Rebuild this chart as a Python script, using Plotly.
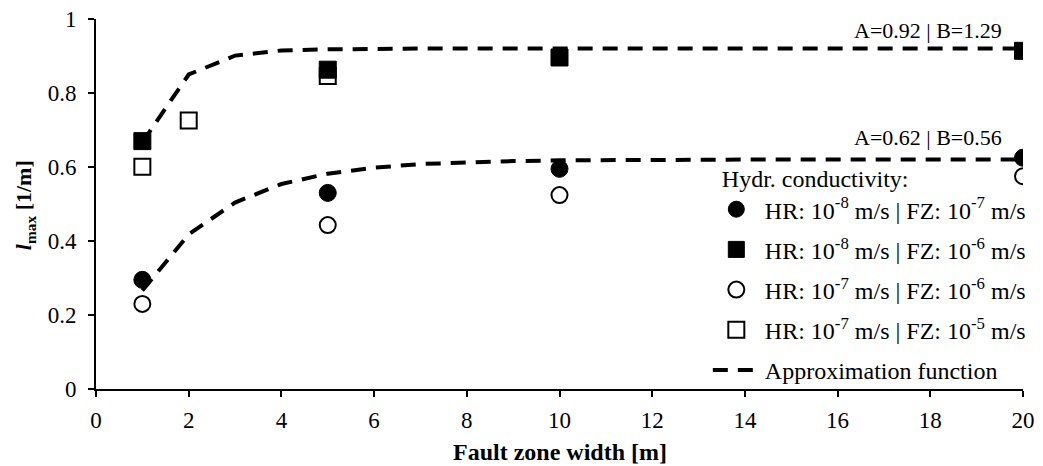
import plotly.graph_objects as go

# Data
fz_width_1 = [1, 5, 10, 20]
hr8_fz7 = [0.295, 0.530, 0.595, 0.625]          # filled circles
hr8_fz6 = [0.670, 0.863, 0.896, 0.914]          # filled squares
hr7_fz6 = [0.230, 0.443, 0.524, 0.575]          # open circles
fz_width_2 = [1, 2, 5]
hr7_fz5 = [0.601, 0.726, 0.846]                 # open squares

approx_x = list(range(1, 21))
approx_upper = [0.667, 0.850, 0.901, 0.915, 0.918, 0.920, 0.920, 0.920, 0.920, 0.920,
                0.920, 0.920, 0.920, 0.920, 0.920, 0.920, 0.920, 0.920, 0.920, 0.920]
approx_lower = [0.266, 0.418, 0.504, 0.554, 0.582, 0.598, 0.608, 0.613, 0.616, 0.618,
                0.619, 0.619, 0.620, 0.620, 0.620, 0.620, 0.620, 0.620, 0.620, 0.620]

label_upper = "A=0.92 | B=1.29"
label_lower = "A=0.62 | B=0.56"

x_ticks = list(range(0, 21, 2))
y_ticks = [0, 0.2, 0.4, 0.6, 0.8, 1]

x_title = "<b>Fault zone width [m]</b>"
y_title = "<b><i>l</i><sub>max</sub> [1/m]</b>"

FONT = "Liberation Serif, Times New Roman, serif"

fig = go.Figure()

# open squares drawn first (they sit under the filled squares)
fig.add_trace(go.Scatter(
    x=fz_width_2, y=hr7_fz5, mode="markers",
    name="HR: 10<sup>-7</sup> m/s | FZ: 10<sup>-5</sup> m/s",
    marker=dict(symbol="square", size=16, color="white", line=dict(color="black", width=2)),
    legendgroup="g4", legendrank=4))
fig.add_trace(go.Scatter(
    x=fz_width_1, y=hr7_fz6, mode="markers",
    name="HR: 10<sup>-7</sup> m/s | FZ: 10<sup>-6</sup> m/s",
    marker=dict(symbol="circle", size=16, color="white", line=dict(color="black", width=2)),
    legendgroup="g3", legendrank=3))
fig.add_trace(go.Scatter(
    x=fz_width_1, y=hr8_fz7, mode="markers",
    name="HR: 10<sup>-8</sup> m/s | FZ: 10<sup>-7</sup> m/s",
    marker=dict(symbol="circle", size=17, color="black", line=dict(color="black", width=1)),
    legendgroup="g1", legendrank=1))
fig.add_trace(go.Scatter(
    x=fz_width_1, y=hr8_fz6, mode="markers",
    name="HR: 10<sup>-8</sup> m/s | FZ: 10<sup>-6</sup> m/s",
    marker=dict(symbol="square", size=17, color="black", line=dict(color="black", width=1)),
    legendgroup="g2", legendrank=2))
fig.add_trace(go.Scatter(
    x=approx_x, y=approx_upper, mode="lines",
    name="Approximation function",
    line=dict(color="black", width=4, dash="15px,10px"),
    legendgroup="g5", legendrank=5))
fig.add_trace(go.Scatter(
    x=approx_x, y=approx_lower, mode="lines",
    name="Approximation function", showlegend=False,
    line=dict(color="black", width=4, dash="15px,10px"),
    legendgroup="g5", legendrank=5))

fig.add_annotation(x=19.6, y=0.968, xref="x", yref="y", text=label_upper,
                   showarrow=False, xanchor="right", yanchor="middle",
                   font=dict(family=FONT, size=22, color="black"))
fig.add_annotation(x=19.6, y=0.680, xref="x", yref="y", text=label_lower,
                   showarrow=False, xanchor="right", yanchor="middle",
                   font=dict(family=FONT, size=22, color="black"))

# axis titles as annotations for precise placement
fig.add_annotation(x=0.5, y=-0.170, xref="paper", yref="paper", text=x_title,
                   showarrow=False, xanchor="center", yanchor="middle",
                   font=dict(family=FONT, size=24, color="black"))
fig.add_annotation(x=-0.0765, y=0.497, xref="paper", yref="paper", text=y_title,
                   showarrow=False, xanchor="center", yanchor="middle", textangle=-90,
                   font=dict(family=FONT, size=22, color="black"))

axis_common = dict(
    showgrid=False, zeroline=False, showline=True, linecolor="black", linewidth=2,
    ticks="outside", ticklen=6, tickwidth=2, tickcolor="black", automargin=False,
    tickfont=dict(family=FONT, size=23, color="black"),
)

fig.update_xaxes(range=[0, 20], tickvals=x_ticks, ticktext=[str(v) for v in x_ticks],
                 ticklabelstandoff=3, **axis_common)
fig.update_yaxes(range=[0, 1], tickvals=y_ticks, ticktext=["0", "0.2", "0.4", "0.6", "0.8", "1"],
                 ticklabelstandoff=7, **axis_common)

fig.update_layout(
    width=1043, height=466,
    margin=dict(l=96, r=15, t=19, b=77),
    plot_bgcolor="white", paper_bgcolor="white",
    font=dict(family=FONT, color="black"),
    legend=dict(
        title=dict(text="&nbsp;&nbsp;Hydr. conductivity:", font=dict(family=FONT, size=24, color="black")),
        x=0.660, y=0.63, xanchor="left", yanchor="top",
        bgcolor="rgba(0,0,0,0)", borderwidth=0,
        font=dict(family=FONT, size=24, color="black"),
        itemwidth=47,
        traceorder="grouped", tracegroupgap=6,
    ),
)

fig.write_html("out.html")
